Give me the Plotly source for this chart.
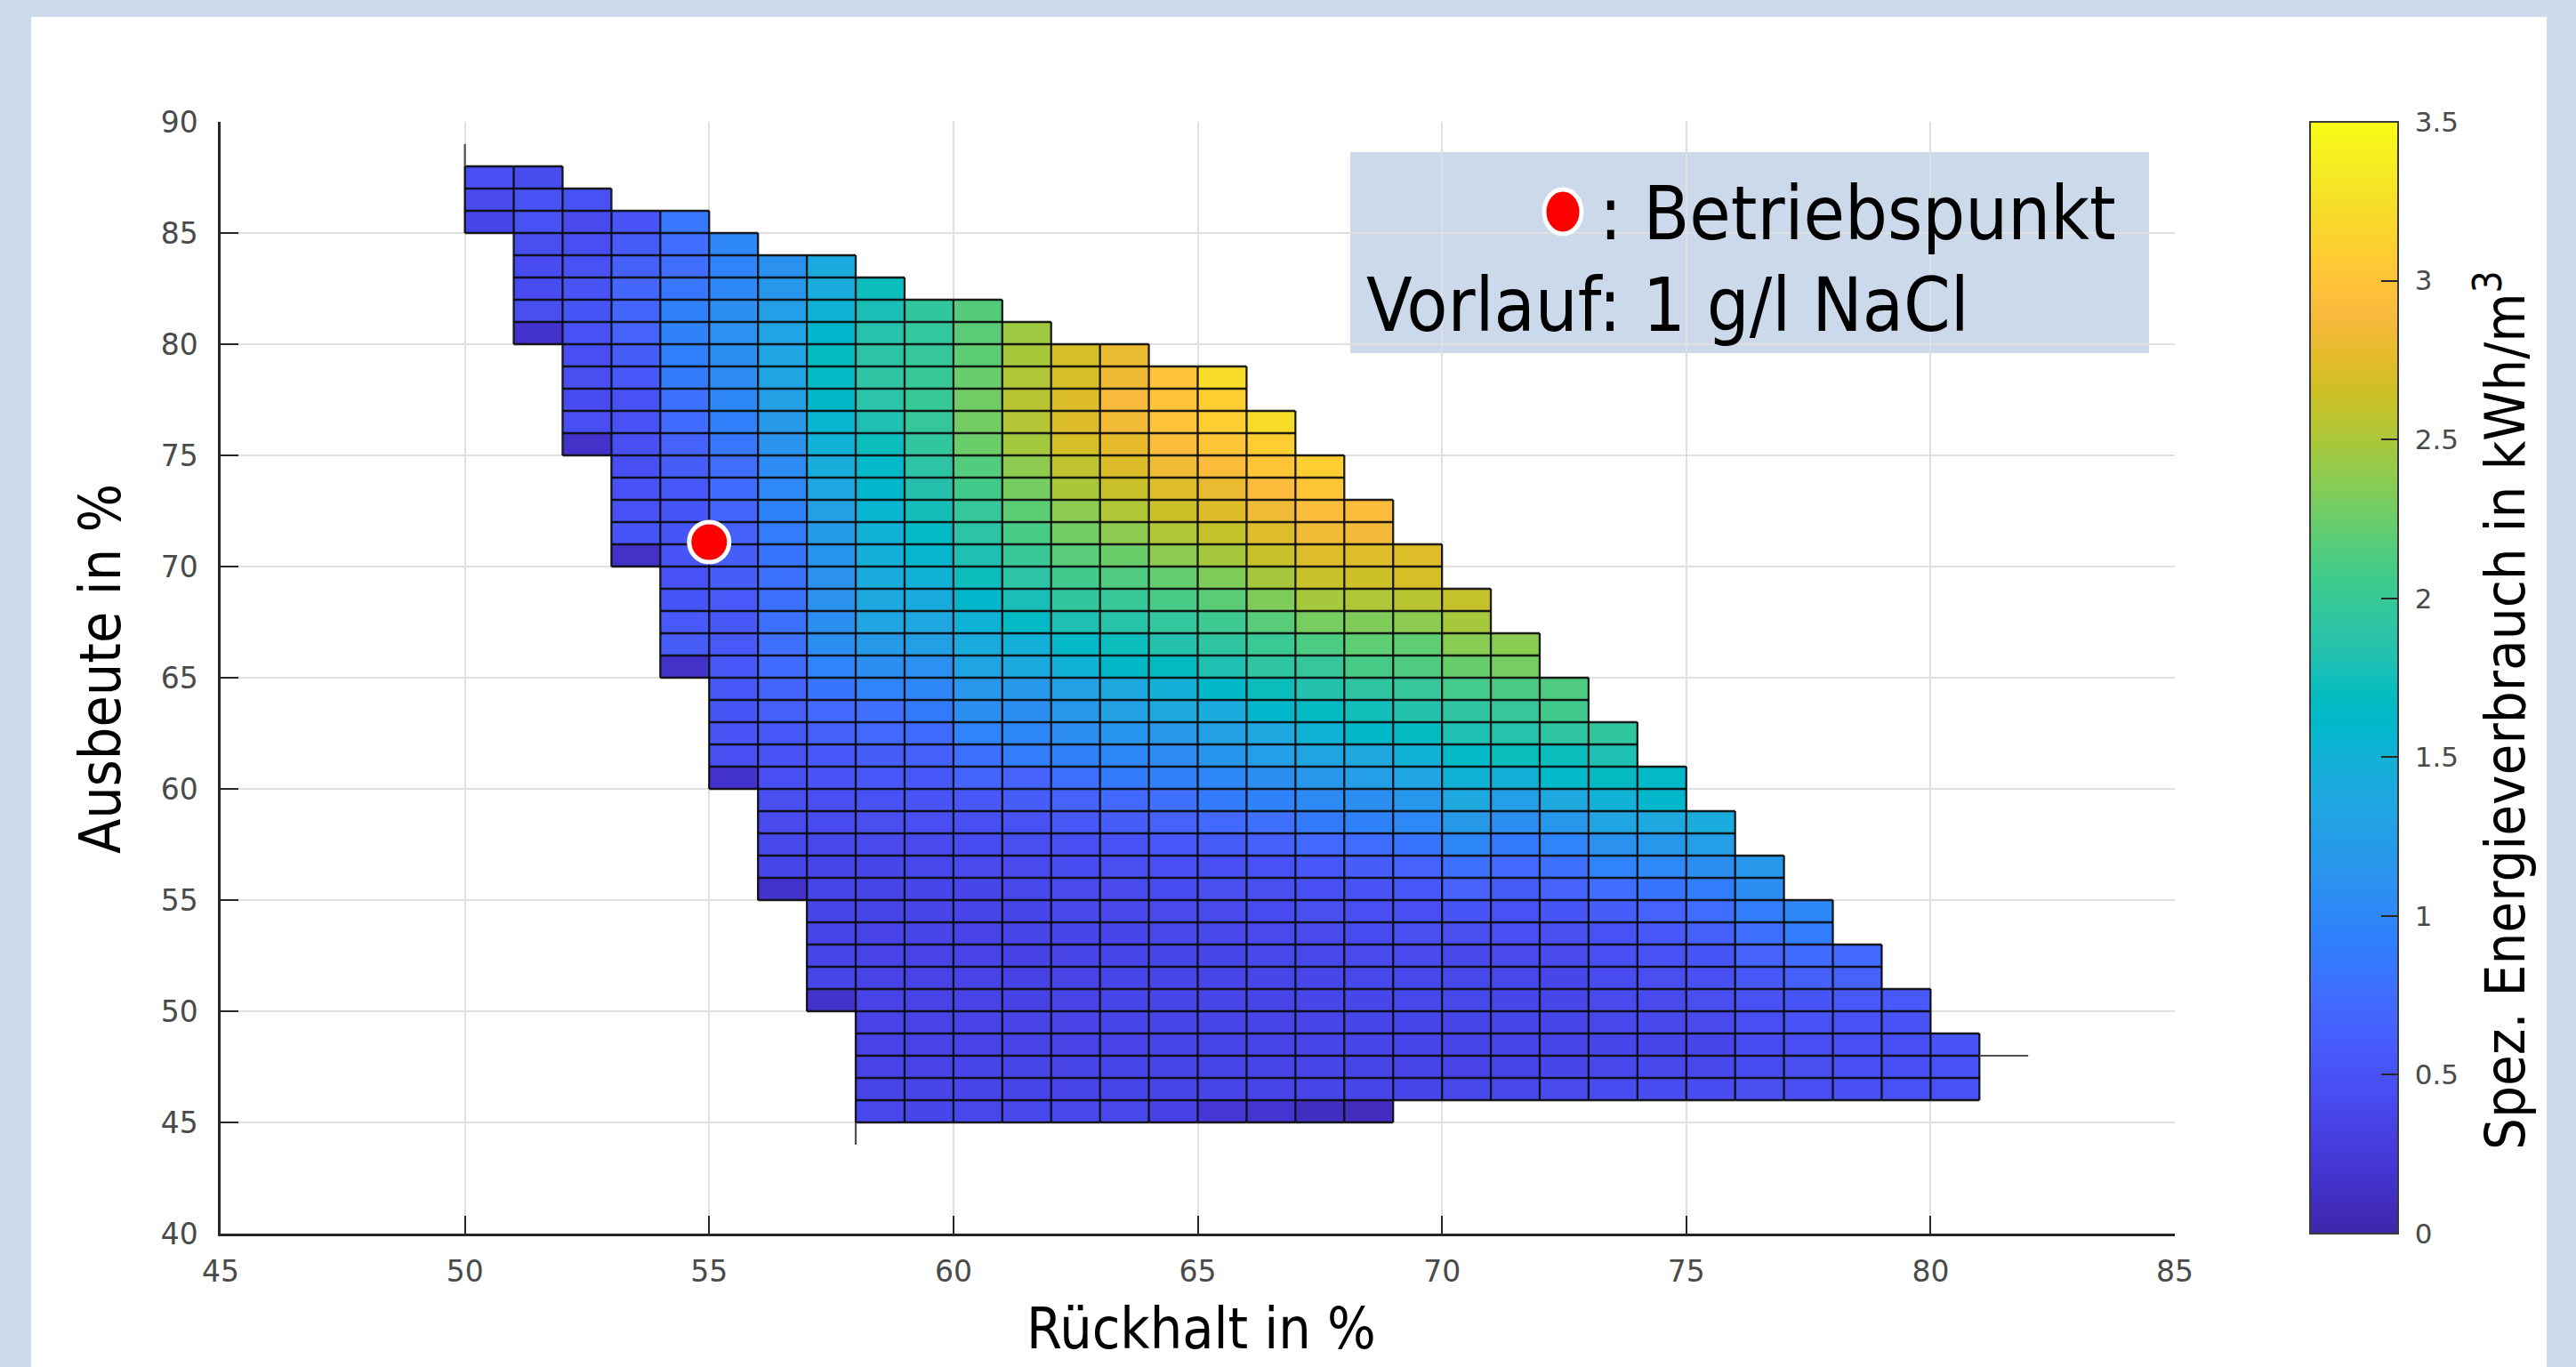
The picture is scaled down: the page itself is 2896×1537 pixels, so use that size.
import plotly.graph_objects as go

# ---------------- data ----------------
ruckhalt = [50, 51, 52, 53, 54, 55, 56, 57, 58, 59, 60, 61, 62, 63, 64, 65,
            66, 67, 68, 69, 70, 71, 72, 73, 74, 75, 76, 77, 78, 79, 80]
# lowest Ausbeute (cell lower edge) of each Rueckhalt column
ausbeute_start = [85, 80, 75, 70, 65, 60, 55, 50, 45, 45, 45, 45, 45, 45, 45, 45,
                  45, 45, 45, 46, 46, 46, 46, 46, 46, 46, 46, 46, 46, 46, 46]
# specific energy consumption per cell, bottom -> top, kWh/m3
energie = [
    [0.38, 0.42, 0.46],
    [0.17, 0.45, 0.43, 0.43, 0.45, 0.50, 0.50, 0.44],
    [0.15, 0.46, 0.43, 0.45, 0.46, 0.50, 0.53, 0.52, 0.50, 0.46, 0.42, 0.50],
    [0.15, 0.53, 0.50, 0.50, 0.48, 0.48, 0.50, 0.50, 0.55, 0.60, 0.66, 0.69, 0.69, 0.64, 0.58, 0.52],
    [0.15, 0.58, 0.57, 0.53, 0.50, 0.52, 0.53, 0.53, 0.56, 0.60, 0.66, 0.73, 0.80, 0.87, 0.92, 0.95,
     0.95, 0.84, 0.77, 0.76, 0.85],
    [0.17, 0.48, 0.52, 0.53, 0.55, 0.55, 0.57, 0.56, 0.57, 0.60, 0.60, 0.64, 0.68, 0.73, 0.77, 0.84,
     0.92, 1.00, 1.04, 1.08, 1.10, 1.08, 1.00, 0.97, 1.00],
    [0.17, 0.38, 0.40, 0.42, 0.45, 0.48, 0.52, 0.56, 0.62, 0.67, 0.74, 0.78, 0.80, 0.80, 0.80, 0.83,
     0.90, 0.96, 1.02, 1.06, 1.13, 1.20, 1.28, 1.33, 1.35, 1.32, 1.25, 1.17, 1.12],
    [0.18, 0.37, 0.36, 0.36, 0.36, 0.36, 0.38, 0.40, 0.43, 0.46, 0.52, 0.56, 0.63, 0.72, 0.82, 0.97,
     1.08, 1.08, 1.12, 1.12, 1.15, 1.22, 1.28, 1.36, 1.44, 1.50, 1.56, 1.62, 1.66, 1.68, 1.60, 1.52,
     1.43, 1.40],
    [0.40, 0.37, 0.35, 0.35, 0.35, 0.35, 0.35, 0.35, 0.35, 0.36, 0.36, 0.38, 0.42, 0.45, 0.50, 0.55,
     0.60, 0.72, 0.78, 0.97, 1.08, 1.20, 1.33, 1.38, 1.43, 1.48, 1.50, 1.55, 1.60, 1.63, 1.72, 1.80,
     1.88, 1.92, 1.90, 1.85, 1.78, 1.72],
    [0.38, 0.37, 0.35, 0.35, 0.35, 0.35, 0.35, 0.35, 0.36, 0.36, 0.38, 0.40, 0.42, 0.46, 0.52, 0.56,
     0.64, 0.74, 0.88, 1.00, 1.10, 1.27, 1.36, 1.42, 1.50, 1.58, 1.66, 1.76, 1.84, 1.90, 1.95, 1.98,
     2.00, 2.00, 1.98, 1.96, 1.95],
    [0.40, 0.37, 0.36, 0.35, 0.35, 0.35, 0.35, 0.35, 0.35, 0.36, 0.38, 0.42, 0.43, 0.48, 0.55, 0.68,
     0.80, 0.97, 1.08, 1.17, 1.33, 1.42, 1.52, 1.60, 1.72, 1.81, 1.89, 1.98, 2.07, 2.15, 2.25, 2.28,
     2.27, 2.24, 2.19, 2.18, 2.16],
    [0.40, 0.37, 0.36, 0.35, 0.35, 0.34, 0.34, 0.34, 0.36, 0.38, 0.40, 0.42, 0.45, 0.50, 0.60, 0.66,
     0.90, 1.00, 1.08, 1.18, 1.40, 1.49, 1.66, 1.78, 1.90, 2.01, 2.10, 2.19, 2.29, 2.38, 2.47, 2.53,
     2.55, 2.52, 2.49, 2.45],
    [0.40, 0.37, 0.36, 0.35, 0.35, 0.35, 0.35, 0.36, 0.38, 0.40, 0.42, 0.43, 0.48, 0.56, 0.66, 0.78,
     0.95, 1.08, 1.17, 1.30, 1.50, 1.65, 1.80, 1.95, 2.06, 2.17, 2.28, 2.38, 2.50, 2.58, 2.68, 2.72,
     2.72, 2.68, 2.68],
    [0.40, 0.37, 0.36, 0.35, 0.36, 0.36, 0.36, 0.37, 0.38, 0.40, 0.42, 0.45, 0.50, 0.60, 0.72, 0.87,
     1.00, 1.15, 1.30, 1.38, 1.62, 1.72, 1.87, 2.00, 2.13, 2.25, 2.38, 2.52, 2.63, 2.72, 2.78, 2.84,
     2.88, 2.82, 2.80],
    [0.33, 0.37, 0.36, 0.36, 0.36, 0.36, 0.36, 0.38, 0.40, 0.42, 0.43, 0.46, 0.55, 0.66, 0.78, 0.95,
     1.03, 1.17, 1.38, 1.48, 1.67, 1.83, 1.96, 2.10, 2.22, 2.38, 2.52, 2.64, 2.73, 2.83, 2.93, 3.00,
     3.00, 3.00],
    [0.22, 0.37, 0.36, 0.36, 0.36, 0.36, 0.37, 0.38, 0.40, 0.42, 0.45, 0.48, 0.58, 0.72, 0.87, 1.00,
     1.15, 1.30, 1.43, 1.62, 1.80, 1.93, 2.04, 2.18, 2.33, 2.48, 2.60, 2.72, 2.80, 2.92, 3.02, 3.10,
     3.10, 3.22],
    [0.20, 0.37, 0.36, 0.36, 0.36, 0.37, 0.38, 0.40, 0.42, 0.43, 0.45, 0.50, 0.63, 0.78, 0.95, 1.08,
     1.25, 1.37, 1.60, 1.72, 1.93, 2.02, 2.17, 2.33, 2.48, 2.63, 2.73, 2.83, 2.93, 3.02, 3.10, 3.22],
    [0.12, 0.37, 0.36, 0.36, 0.37, 0.38, 0.38, 0.40, 0.42, 0.45, 0.48, 0.55, 0.72, 0.87, 1.03, 1.17,
     1.33, 1.50, 1.67, 1.83, 1.98, 2.12, 2.30, 2.48, 2.63, 2.73, 2.83, 2.93, 3.02, 3.10],
    [0.10, 0.37, 0.36, 0.38, 0.38, 0.38, 0.40, 0.42, 0.43, 0.46, 0.52, 0.60, 0.76, 0.95, 1.08, 1.25,
     1.38, 1.62, 1.75, 1.93, 2.10, 2.20, 2.33, 2.52, 2.65, 2.73, 2.85, 2.92],
    [0.38, 0.36, 0.38, 0.38, 0.40, 0.40, 0.42, 0.45, 0.48, 0.55, 0.66, 0.82, 1.02, 1.17, 1.33, 1.50,
     1.67, 1.83, 1.98, 2.13, 2.20, 2.38, 2.55, 2.68, 2.73],
    [0.40, 0.35, 0.36, 0.38, 0.40, 0.40, 0.40, 0.45, 0.53, 0.66, 0.78, 1.00, 1.20, 1.38, 1.50, 1.65,
     1.80, 1.93, 2.08, 2.24, 2.36, 2.48, 2.60],
    [0.40, 0.36, 0.36, 0.38, 0.38, 0.40, 0.42, 0.46, 0.50, 0.58, 0.72, 0.88, 1.08, 1.25, 1.48, 1.72,
     1.85, 1.98, 2.11, 2.30, 2.37],
    [0.42, 0.38, 0.36, 0.38, 0.38, 0.38, 0.42, 0.45, 0.53, 0.66, 0.78, 0.97, 1.17, 1.38, 1.63, 1.72,
     1.93, 2.06, 2.13],
    [0.43, 0.40, 0.38, 0.40, 0.42, 0.43, 0.46, 0.50, 0.60, 0.75, 0.97, 1.12, 1.35, 1.50, 1.67, 1.80,
     1.95],
    [0.43, 0.40, 0.38, 0.40, 0.42, 0.45, 0.50, 0.56, 0.66, 0.82, 1.02, 1.17, 1.38, 1.60, 1.65],
    [0.43, 0.40, 0.38, 0.42, 0.45, 0.48, 0.53, 0.63, 0.76, 0.90, 1.08, 1.25, 1.43],
    [0.45, 0.43, 0.43, 0.46, 0.50, 0.56, 0.66, 0.78, 0.90, 1.08, 1.17],
    [0.46, 0.45, 0.46, 0.50, 0.53, 0.63, 0.74, 0.90, 1.00],
    [0.48, 0.46, 0.48, 0.50, 0.57, 0.66, 0.72],
    [0.50, 0.48, 0.48, 0.52, 0.57],
    [0.50, 0.50, 0.52],
]

# operating point (Betriebspunkt)
betrieb_x = [55]
betrieb_y = [71.1]

# stray surface edges visible in the original
stub_x = [[50, 50], [81, 82], [58, 58]]
stub_y = [[88, 89], [48, 48], [45, 44]]

x_ticks = [45, 50, 55, 60, 65, 70, 75, 80, 85]
y_ticks = [40, 45, 50, 55, 60, 65, 70, 75, 80, 85, 90]
cb_ticks = [0, 0.5, 1, 1.5, 2, 2.5, 3, 3.5]
cb_min, cb_max = 0, 3.5

# ---------------- styling ----------------
parula = [
    (0.2422, 0.1504, 0.6603), (0.2504, 0.1650, 0.7076), (0.2578, 0.1818, 0.7511), (0.2647, 0.1978, 0.7952),
    (0.2706, 0.2147, 0.8364), (0.2751, 0.2342, 0.8710), (0.2783, 0.2559, 0.8991), (0.2803, 0.2782, 0.9221),
    (0.2813, 0.3006, 0.9414), (0.2810, 0.3228, 0.9579), (0.2795, 0.3447, 0.9717), (0.2760, 0.3667, 0.9829),
    (0.2699, 0.3892, 0.9906), (0.2602, 0.4123, 0.9952), (0.2440, 0.4358, 0.9988), (0.2206, 0.4603, 0.9973),
    (0.1963, 0.4847, 0.9892), (0.1834, 0.5074, 0.9798), (0.1786, 0.5289, 0.9682), (0.1764, 0.5499, 0.9520),
    (0.1687, 0.5703, 0.9359), (0.1540, 0.5902, 0.9218), (0.1460, 0.6091, 0.9079), (0.1380, 0.6276, 0.8973),
    (0.1248, 0.6459, 0.8883), (0.1113, 0.6635, 0.8763), (0.0952, 0.6798, 0.8598), (0.0689, 0.6948, 0.8394),
    (0.0297, 0.7082, 0.8163), (0.0036, 0.7203, 0.7917), (0.0067, 0.7312, 0.7660), (0.0433, 0.7411, 0.7394),
    (0.0964, 0.7500, 0.7120), (0.1408, 0.7584, 0.6842), (0.1717, 0.7670, 0.6554), (0.1938, 0.7758, 0.6251),
    (0.2161, 0.7843, 0.5923), (0.2470, 0.7918, 0.5567), (0.2906, 0.7973, 0.5188), (0.3406, 0.8008, 0.4789),
    (0.3909, 0.8029, 0.4354), (0.4456, 0.8024, 0.3909), (0.5044, 0.7993, 0.3480), (0.5616, 0.7942, 0.3045),
    (0.6174, 0.7876, 0.2612), (0.6720, 0.7793, 0.2227), (0.7242, 0.7698, 0.1910), (0.7738, 0.7598, 0.1646),
    (0.8203, 0.7498, 0.1535), (0.8634, 0.7406, 0.1596), (0.9035, 0.7330, 0.1774), (0.9393, 0.7288, 0.2100),
    (0.9728, 0.7298, 0.2394), (0.9956, 0.7434, 0.2371), (0.9970, 0.7659, 0.2199), (0.9952, 0.7893, 0.2028),
    (0.9892, 0.8136, 0.1885), (0.9786, 0.8386, 0.1766), (0.9676, 0.8639, 0.1643), (0.9610, 0.8890, 0.1537),
    (0.9597, 0.9135, 0.1423), (0.9628, 0.9373, 0.1265), (0.9691, 0.9606, 0.1064), (0.9769, 0.9839, 0.0805),
]
n = len(parula)
colorscale = [[i / (n - 1), "rgb(%d,%d,%d)" % tuple(round(c * 255) for c in rgb)]
              for i, rgb in enumerate(parula)]
clear_scale = [[0, "rgba(0,0,0,0)"], [1, "rgba(0,0,0,0)"]]

W, H = 2896, 1537
ML, MR, MT, MB = 248, 451, 137, 150
PW, PH = W - ML - MR, H - MT - MB


def px_x(p):
    return (p - ML) / PW


def px_y(p):
    return 1 - (p - MT) / PH


COND = "DejaVu Sans Condensed, Liberation Sans Narrow, Arial Narrow, DejaVu Sans"
TICKFAM = "DejaVu Sans, Liberation Sans, Arial"
TICKCOL = "#4a4a4a"
AXC = "#262626"
CB_LEFT, CB_W = 2597, 99
cb_geom = dict(thickness=CB_W, thicknessmode="pixels", len=1, lenmode="fraction",
               x=px_x(CB_LEFT), xanchor="left", xpad=0, y=0.5, yanchor="middle", ypad=0)

# ---------------- build grid from data ----------------
y_lo = min(ausbeute_start)
y_hi = max(s + len(v) for s, v in zip(ausbeute_start, energie))
x_edges = ruckhalt + [ruckhalt[-1] + 1]
y_edges = list(range(y_lo, y_hi + 1))
z = [[None] * len(ruckhalt) for _ in range(y_hi - y_lo)]
hseg, vseg = set(), set()
for ci, (s, vals) in enumerate(zip(ausbeute_start, energie)):
    x0 = ruckhalt[ci]
    for k, v in enumerate(vals):
        y0 = s + k
        z[y0 - y_lo][ci] = v
        hseg.add((x0, y0)); hseg.add((x0, y0 + 1))
        vseg.add((x0, y0)); vseg.add((x0 + 1, y0))

ex, ey = [], []
for (a, b) in sorted(hseg):
    ex += [a, a + 1, None]; ey += [b, b, None]
for (a, b) in sorted(vseg):
    ex += [a, a, None]; ey += [b, b + 1, None]

sx, sy = [], []
for xs, ys in zip(stub_x, stub_y):
    sx += xs + [None]; sy += ys + [None]

fig = go.Figure()
# main colour bar: labels pushed off the bar by transparent outside ticks
fig.add_trace(go.Heatmap(
    x=x_edges, y=y_edges, z=z, colorscale=colorscale, zmin=cb_min, zmax=cb_max,
    hoverongaps=False,
    colorbar=dict(
        **cb_geom,
        outlinewidth=2, outlinecolor="#3a3a3a",
        ticks="outside", ticklen=12, tickwidth=1, tickcolor="rgba(0,0,0,0)",
        tickvals=cb_ticks, tickfont=dict(family=TICKFAM, size=31, color=TICKCOL),
    ),
))
fig.add_trace(go.Scatter(x=ex, y=ey, mode="lines", hoverinfo="skip",
                         line=dict(color="rgba(12,12,12,0.92)", width=2.3), showlegend=False))
fig.add_trace(go.Scatter(x=sx, y=sy, mode="lines", hoverinfo="skip",
                         line=dict(color="#505050", width=2.2), showlegend=False))
fig.add_trace(go.Scatter(x=betrieb_x, y=betrieb_y, mode="markers", showlegend=False,
                         marker=dict(color="#FF0000", size=45, line=dict(color="white", width=5))))
# transparent overlay colour bar that only draws the MATLAB-style inside ticks
fig.add_trace(go.Scatter(
    x=[None], y=[None], mode="markers", showlegend=False, hoverinfo="skip",
    marker=dict(color=[cb_min], cmin=cb_min, cmax=cb_max, colorscale=clear_scale, showscale=True,
                colorbar=dict(**cb_geom, outlinewidth=0, bgcolor="rgba(0,0,0,0)",
                              ticks="inside", ticklen=19, tickwidth=2, tickcolor=AXC,
                              tickvals=cb_ticks, showticklabels=False)),
))

axis_common = dict(
    showline=True, linecolor=AXC, linewidth=2.5, mirror=False,
    ticks="inside", ticklen=20, tickwidth=2, tickcolor=AXC,
    showgrid=True, gridcolor="#E0E0E0", gridwidth=2, zeroline=False,
    tickfont=dict(family=TICKFAM, size=33, color=TICKCOL),
)
fig.update_xaxes(range=[45, 85], tickvals=x_ticks, ticklabelstandoff=12, **axis_common)
fig.update_yaxes(range=[40, 90], tickvals=y_ticks, ticklabelstandoff=16, **axis_common)

shapes = [
    dict(type="rect", xref="paper", yref="paper", x0=px_x(35), x1=px_x(2863), y0=px_y(1600), y1=px_y(19),
         fillcolor="white", line=dict(width=0), layer="below"),
    dict(type="rect", xref="paper", yref="paper", x0=px_x(1518), x1=px_x(2416), y0=px_y(397), y1=px_y(171),
         fillcolor="#CBD9EA", line=dict(width=0), layer="below"),
    dict(type="circle", xref="paper", yref="paper", xsizemode="pixel", ysizemode="pixel",
         xanchor=px_x(1757), yanchor=px_y(238), x0=-21, x1=21, y0=-25, y1=25,
         fillcolor="#FF0000", line=dict(color="white", width=5), layer="above"),
]

annotations = [
    dict(text="Rückhalt in %", xref="paper", yref="paper", x=px_x(1350), y=px_y(1494),
         xanchor="center", yanchor="middle", showarrow=False, font=dict(family=COND, size=64, color="black")),
    dict(text="Ausbeute in %", xref="paper", yref="paper", x=px_x(113), y=px_y(752), textangle=-90,
         xanchor="center", yanchor="middle", showarrow=False, font=dict(family=COND, size=64, color="black")),
    dict(text="Spez. Energieverbrauch in kWh/m<sup>3</sup>", xref="paper", yref="paper",
         x=px_x(2812), y=px_y(799), textangle=-90, xanchor="center", yanchor="middle", showarrow=False,
         font=dict(family=COND, size=63, color="black")),
    dict(text=": Betriebspunkt", xref="paper", yref="paper", x=px_x(2381), y=px_y(240),
         xanchor="right", yanchor="middle", showarrow=False, font=dict(family=COND, size=84, color="black")),
    dict(text="Vorlauf: 1 g/l NaCl", xref="paper", yref="paper", x=px_x(1534), y=px_y(343),
         xanchor="left", yanchor="middle", showarrow=False, font=dict(family=COND, size=84, color="black")),
]

fig.update_layout(
    width=W, height=H,
    margin=dict(l=ML, r=MR, t=MT, b=MB, autoexpand=False),
    paper_bgcolor="#CDDAEB", plot_bgcolor="rgba(0,0,0,0)",
    showlegend=False, shapes=shapes, annotations=annotations,
)

fig.write_html("out.html", config={"displayModeBar": False},
               post_script="document.body.style.margin='0';document.body.style.overflow='hidden';")
